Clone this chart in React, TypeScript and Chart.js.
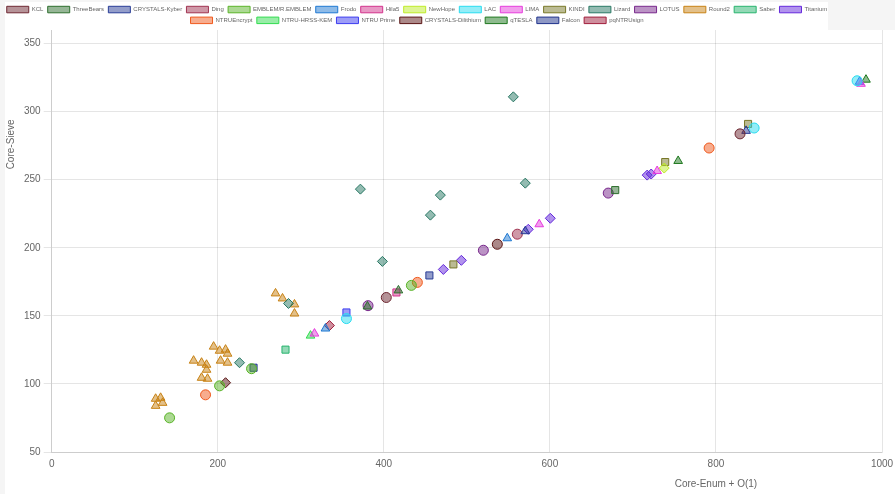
import React, { useEffect, useRef } from 'react';
import { Chart, registerables } from 'chart.js';

Chart.register(...registerables);

type Shape = 'circle' | 'triangle' | 'rect' | 'rectRot';
type P = [number, number, Shape];

const xTicks = [0, 200, 400, 600, 800, 1000];
const yTicks = [50, 100, 150, 200, 250, 300, 350];
const yMax = 360;

const xTitle = 'Core-Enum + O(1)';
const yTitle = 'Core-Sieve';

const KCL: P[] = [[403, 163.5, 'circle'], [829, 283.7, 'circle']];
const ThreeBears: P[] = [[417.6, 168.7, 'triangle'], [380.3, 156.9, 'triangle'], [678.7, 242.4, 'rect']];
const Kyber: P[] = [[454.9, 179.7, 'rect'], [836.3, 285.9, 'triangle'], [570.4, 212.2, 'triangle']];
const Ding: P[] = [[560.8, 210, 'circle']];
const Emblem: P[] = [[433.2, 172.4, 'circle'], [240.7, 111.2, 'circle'], [202.2, 98.6, 'circle'], [142, 75.1, 'circle']];
const Frodo: P[] = [[548.7, 207, 'triangle'], [329.7, 140.7, 'triangle']];
const Hila5: P[] = [[415.2, 167.2, 'rect']];
const NewHope: P[] = [[737.7, 258.6, 'rectRot']];
const LAC: P[] = [[355, 148, 'circle'], [846, 288, 'circle'], [970, 322.7, 'circle']];
const LIMA: P[] = [[316.5, 137, 'triangle'], [587.2, 217.3, 'triangle'], [729.2, 256.4, 'triangle'], [974.7, 320.5, 'triangle']];
const KINDI: P[] = [[483.8, 187.8, 'rect'], [738.9, 263, 'rect'], [838.7, 291, 'rect']];
const Lizard: P[] = [
  [371.8, 243.1, 'rectRot'], [468.1, 238.7, 'rectRot'], [456.1, 224, 'rectRot'], [398.3, 190, 'rectRot'],
  [570.4, 247.5, 'rectRot'], [556, 310.9, 'rectRot'], [226.2, 115.6, 'rectRot'], [285.2, 159.1, 'rectRot'],
];
const LOTUS: P[] = [[519.9, 198.2, 'circle'], [670.3, 240.2, 'circle'], [381, 157.5, 'circle']];
const Round2: P[] = [
  [269.6, 166.5, 'triangle'], [278, 162.8, 'triangle'], [292.4, 158.4, 'triangle'], [292.4, 151.7, 'triangle'],
  [195, 127.4, 'triangle'], [202.2, 124.4, 'triangle'], [209.4, 125.2, 'triangle'], [211.8, 122.2, 'triangle'],
  [203.4, 117.1, 'triangle'], [211.8, 115.6, 'triangle'], [170.9, 117.1, 'triangle'], [180.5, 115.6, 'triangle'],
  [186.5, 114.1, 'triangle'], [186.5, 110.4, 'triangle'], [180.5, 104.5, 'triangle'], [187.7, 103.8, 'triangle'],
  [125.2, 89.1, 'triangle'], [131.2, 89.8, 'triangle'], [125.2, 83.9, 'triangle'], [133.6, 86.1, 'triangle'],
];
const Saber: P[] = [[281.6, 125.2, 'rect']];
const Titanium: P[] = [
  [493.4, 190.8, 'rectRot'], [471.7, 184.1, 'rectRot'], [600.5, 221.7, 'rectRot'],
  [574, 213.6, 'rectRot'], [717.2, 253.4, 'rectRot'], [722, 254.2, 'rectRot'],
];
const NTRUEncrypt: P[] = [[440.4, 174.6, 'circle'], [791.8, 273.3, 'circle'], [185.3, 92, 'circle']];
const HRSS: P[] = [[311.7, 135.5, 'triangle']];
const NTRUPrime: P[] = [[355, 152.5, 'rect'], [973, 322, 'triangle']];
const Dilithium: P[] = [[536.7, 202.6, 'circle'], [209.4, 100.9, 'rectRot']];
const qTESLA: P[] = [[754.5, 263.8, 'triangle'], [980.7, 323.5, 'triangle']];
const Falcon: P[] = [[243.1, 111.9, 'rect']];
const pqNTRUsign: P[] = [[334.5, 142.9, 'rectRot']];

const seriesNames = [
  'KCL', 'ThreeBears', 'CRYSTALS-Kyber', 'Ding', 'EMBLEM/R.EMBLEM', 'Frodo', 'Hila5', 'NewHope', 'LAC', 'LIMA',
  'KINDI', 'Lizard', 'LOTUS', 'Round2', 'Saber', 'Titanium', 'NTRUEncrypt', 'NTRU-HRSS-KEM', 'NTRU Prime',
  'CRYSTALS-Dilithium', 'qTESLA', 'Falcon', 'pqNTRUsign',
];
const seriesPoints = [
  KCL, ThreeBears, Kyber, Ding, Emblem, Frodo, Hila5, NewHope, LAC, LIMA,
  KINDI, Lizard, LOTUS, Round2, Saber, Titanium, NTRUEncrypt, HRSS, NTRUPrime,
  Dilithium, qTESLA, Falcon, pqNTRUsign,
];
const seriesColors = [
  '110,40,50', '46,110,46', '40,60,150', '160,50,80', '90,180,40', '30,120,210', '210,50,140', '190,235,40',
  '40,220,240', '230,60,220', '120,120,40', '40,120,100', '120,40,140', '200,130,20', '40,180,110', '100,40,220',
  '240,90,30', '50,220,80', '60,60,240', '90,20,20', '30,120,30', '30,50,140', '160,30,60',
];

const LEGEND_H = 28;
const LEGEND_SHIFT = 69;
const LEGEND_BG_W = 823;

const helperPlugin = {
  id: 'helperPlugin',
  beforeLayout(chart: any) {
    const lg = chart.legend;
    if (lg && !lg.__patched) {
      const f = lg.fit;
      lg.fit = function () {
        f.call(this);
        this.height = LEGEND_H;
      };
      lg.__patched = true;
    }
  },
  afterLayout(chart: any) {
    const lg = chart.legend;
    if (lg) {
      lg.left = lg.left - LEGEND_SHIFT;
    }
  },
  beforeDraw(chart: any) {
    const { ctx, width, height } = chart;
    const lg = chart.legend;
    const lb = lg ? lg.bottom : LEGEND_H;
    ctx.save();
    ctx.fillStyle = '#ffffff';
    ctx.fillRect(0, lb, width, height - lb);
    ctx.fillRect(0, 2, LEGEND_BG_W, lb - 2);
    ctx.restore();
  },
  afterDraw(chart: any) {
    const { ctx, chartArea } = chart;
    ctx.save();
    ctx.fillStyle = '#666';
    ctx.font = "10px 'Helvetica Neue', Helvetica, Arial, sans-serif";
    ctx.textAlign = 'center';
    ctx.textBaseline = 'middle';
    const tx = chartArea.left + (chartArea.right - chartArea.left) * 0.8;
    ctx.fillText(xTitle, tx, chartArea.bottom + 32);
    ctx.translate(6, chartArea.top + (chartArea.bottom - chartArea.top) * 0.271);
    ctx.rotate(-Math.PI / 2);
    ctx.fillText(yTitle, 0, 0);
    ctx.restore();
  },
};

export default function App() {
  const ref = useRef<HTMLCanvasElement | null>(null);
  useEffect(() => {
    document.body.style.background = '#f5f5f5';
    const canvas = ref.current;
    if (!canvas) return;
    const datasets = seriesNames.map((name, i) => {
      const pts = seriesPoints[i];
      const c = seriesColors[i];
      return {
        label: name,
        data: pts.map((p) => ({ x: p[0], y: p[1] })),
        pointStyle: pts.map((p) => p[2]),
        backgroundColor: `rgba(${c},0.5)`,
        borderColor: `rgb(${c})`,
        borderWidth: 2,
        pointBorderWidth: 1,
        pointRadius: 5,
        pointHoverRadius: 5,
      };
    });
    const chart = new Chart(canvas, {
      type: 'scatter',
      data: { datasets },
      options: {
        responsive: false,
        animation: false,
        devicePixelRatio: 1,
        layout: { padding: { left: 16, right: 13, top: 2, bottom: 18 } },
        plugins: {
          legend: {
            position: 'top',
            labels: {
              font: { size: 6 },
              color: '#666',
              boxWidth: 22,
              boxHeight: 6.5,
              padding: 4.3,
            },
          },
          tooltip: { enabled: false },
        },
        scales: {
          x: {
            type: 'linear',
            min: xTicks[0],
            max: xTicks[xTicks.length - 1],
            ticks: {
              stepSize: 200,
              color: '#666',
              font: { size: 10 },
              padding: 6,
              callback: (v: any) => String(v),
            },
            grid: { drawTicks: false },
            afterFit: (s: any) => {
              s.paddingRight = 0;
            },
          },
          y: {
            type: 'linear',
            min: yTicks[0],
            max: yMax,
            ticks: {
              stepSize: 50,
              includeBounds: false,
              color: '#666',
              font: { size: 10 },
              callback: (v: any) => String(v),
            },
          },
        },
      },
      plugins: [helperPlugin],
    } as any);
    return () => chart.destroy();
  }, []);
  return (
    <div style={{ position: 'absolute', left: 5, top: 0 }}>
      <canvas ref={ref} width={890} height={494} style={{ display: 'block' }} />
    </div>
  );
}
